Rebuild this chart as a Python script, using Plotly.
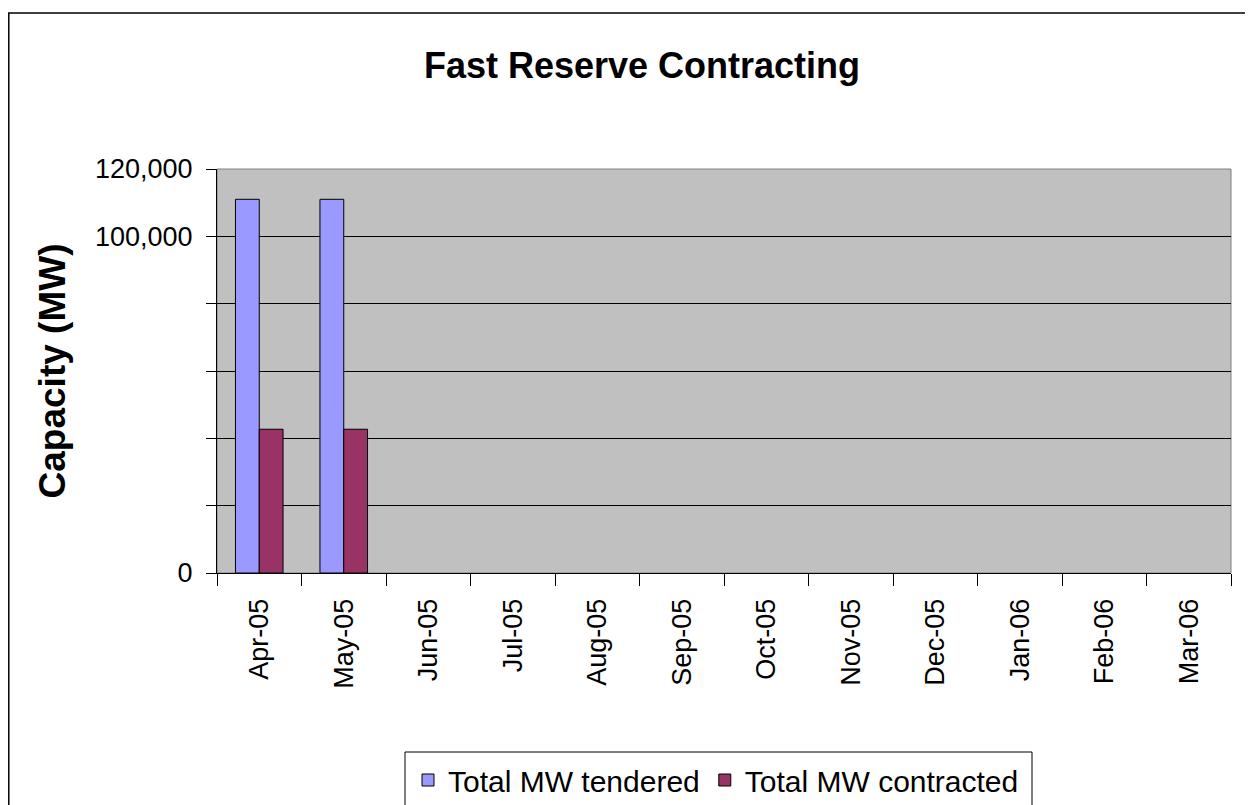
import plotly.graph_objects as go

# --- данные графика ---
months = ["Apr-05", "May-05", "Jun-05", "Jul-05", "Aug-05", "Sep-05",
          "Oct-05", "Nov-05", "Dec-05", "Jan-06", "Feb-06", "Mar-06"]
mw_tendered = [111000, 111000, None, None, None, None, None, None, None, None, None, None]
mw_contracted = [42700, 42700, None, None, None, None, None, None, None, None, None, None]
y_ticks = [0, 20000, 40000, 60000, 80000, 100000, 120000]
y_tick_labels = ["0", "", "", "", "", "100,000", "120,000"]

FONT = "Liberation Sans, Arial, sans-serif"

# страница браузера имеет отступ 8px; по высоте оставляем запас под легенду
OFF = 8
W, H = 1253 - OFF, 840
L, T = 217 - OFF, 169 - OFF
R = W - (1231 - OFF)
B = H - (573 - OFF)
PW, PH = W - L - R, H - T - B


def px_x(v):
    # пиксели страницы -> координаты paper по x
    return (v - OFF - L) / PW


def px_y(v):
    # пиксели страницы -> координаты paper по y
    return (H - B - (v - OFF)) / PH


fig = go.Figure()
fig.add_trace(go.Bar(x=months, y=mw_tendered, name="Total MW tendered",
                     marker=dict(color="#9999FF", line=dict(color="black", width=1))))
fig.add_trace(go.Bar(x=months, y=mw_contracted, name="Total MW contracted",
                     marker=dict(color="#993366", line=dict(color="black", width=1))))

fig.update_layout(
    width=W, height=H,
    margin=dict(l=L, r=R, t=T, b=B),
    paper_bgcolor="white",
    plot_bgcolor="#C0C0C0",
    barmode="group",
    bargap=0.437,
    bargroupgap=0,
    font=dict(family=FONT, color="black"),
    title=dict(text="<b>Fast Reserve Contracting</b>", font=dict(size=36, family=FONT),
               x=(642 - OFF) / W, xanchor="center",
               y=1 - (65 - OFF) / H, yanchor="middle"),
    legend=dict(orientation="h", x=px_x(716), xanchor="center",
                y=px_y(754), yanchor="top",
                font=dict(size=30, family=FONT),
                bgcolor="rgba(0,0,0,0)", borderwidth=0),
    showlegend=True,
)

fig.update_xaxes(
    type="category",
    tickangle=-90,
    tickfont=dict(size=27, family=FONT),
    ticks="outside", ticklen=12, tickcolor="black", tickwidth=1,
    ticklabelstandoff=14,
    tickson="boundaries",
    showline=True, linecolor="black", linewidth=1,
    showgrid=False,
)
fig.update_yaxes(
    range=[0, 120000],
    tickvals=y_ticks, ticktext=y_tick_labels,
    tickfont=dict(size=27, family=FONT),
    ticks="outside", ticklen=10, tickcolor="black", tickwidth=1,
    ticklabelstandoff=8,
    showline=True, linecolor="black", linewidth=1,
    showgrid=True, gridcolor="black", gridwidth=1,
    zeroline=False,
    title=dict(text="<b>Capacity (MW)</b>", font=dict(size=37, family=FONT), standoff=18),
)

# рамка области построения (серая сверху и справа)
fig.add_shape(type="rect", xref="paper", yref="paper", x0=0, x1=1, y0=0, y1=1,
              line=dict(color="#808080", width=1), layer="below")
# внешняя рамка диаграммы
fig.add_shape(type="rect", xref="paper", yref="paper",
              x0=px_x(8.8), x1=px_x(1275), y0=px_y(13), y1=px_y(870),
              line=dict(color="black", width=1.5))
# рамка легенды
fig.add_shape(type="rect", xref="paper", yref="paper",
              x0=px_x(405), x1=px_x(1032), y0=px_y(752), y1=px_y(870),
              line=dict(color="black", width=1))

fig.write_html("out.html")
